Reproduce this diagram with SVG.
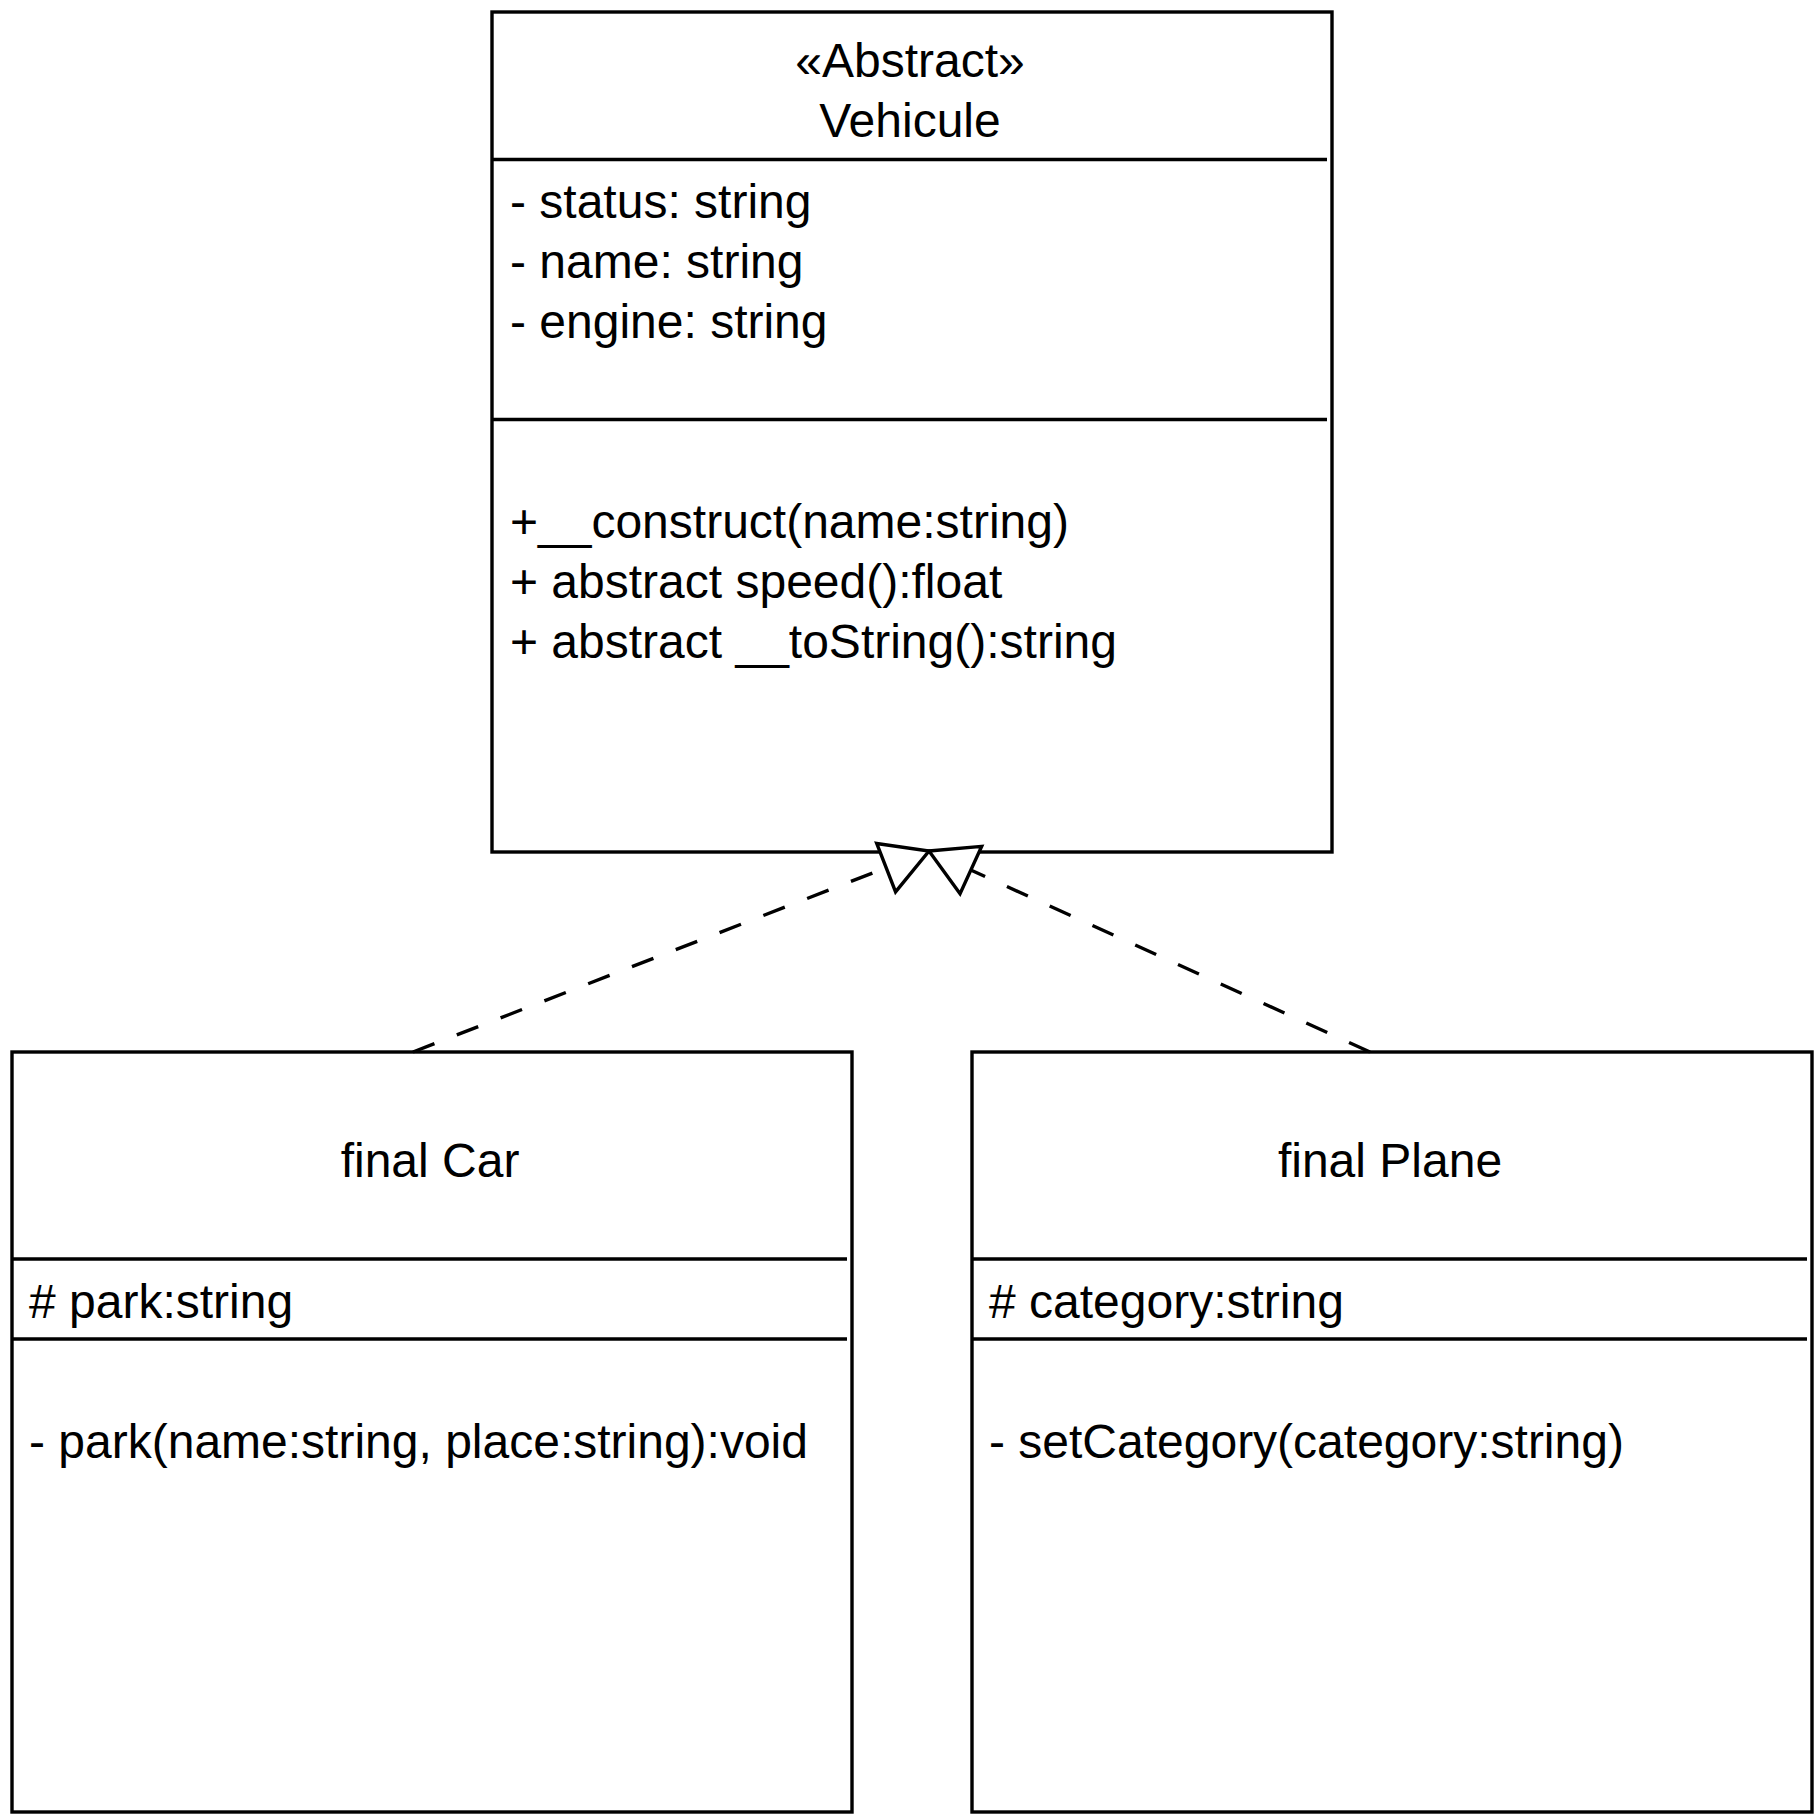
<svg xmlns="http://www.w3.org/2000/svg" width="1820" height="1820" viewBox="0 0 1820 1820">
<style>
.box{fill:#fff;stroke:#000;stroke-width:3.4}
.sep{stroke:#000;stroke-width:3.4;fill:none}
.t{font-family:"Liberation Sans",Arial,Helvetica,sans-serif;font-size:48px;fill:#000}
.c{text-anchor:middle}
.edge{stroke:#000;stroke-width:3.4;fill:none;stroke-dasharray:23 24}
</style>
<defs>
<marker id="tri" markerUnits="userSpaceOnUse" viewBox="-4 -32 56 64" markerWidth="56" markerHeight="64" refX="46" refY="0" orient="auto">
<path d="M0,-26 L46,0 L0,26 Z" fill="#fff" stroke="#000" stroke-width="3.4"/>
</marker>
</defs>
<rect width="1820" height="1820" fill="#fff"/>
<g id="vehicule">
<rect class="box" x="492" y="12" width="840" height="840"/>
<line class="sep" x1="492" y1="159.5" x2="1327" y2="159.5"/>
<line class="sep" x1="492" y1="419.5" x2="1327" y2="419.5"/>
<text class="t c" x="910" y="77">«Abstract»</text>
<text class="t c" x="910" y="137">Vehicule</text>
<text class="t" x="510" y="218">- status: string</text>
<text class="t" x="510" y="278">- name: string</text>
<text class="t" x="510" y="338">- engine: string</text>
<text class="t" x="510" y="538">+__construct(name:string)</text>
<text class="t" x="510" y="598">+ abstract speed():float</text>
<text class="t" x="510" y="658">+ abstract __toString():string</text>
</g>
<g id="car">
<rect class="box" x="12" y="1052" width="840" height="760"/>
<line class="sep" x1="12" y1="1259" x2="847" y2="1259"/>
<line class="sep" x1="12" y1="1339" x2="847" y2="1339"/>
<text class="t c" x="430" y="1177">final Car</text>
<text class="t" x="29" y="1318"># park:string</text>
<text class="t" x="29" y="1458">- park(name:string, place:string):void</text>
</g>
<g id="plane">
<rect class="box" x="972" y="1052" width="840" height="760"/>
<line class="sep" x1="972" y1="1259" x2="1807" y2="1259"/>
<line class="sep" x1="972" y1="1339" x2="1807" y2="1339"/>
<text class="t c" x="1390" y="1177">final Plane</text>
<text class="t" x="989" y="1318"># category:string</text>
<text class="t" x="989" y="1458">- setCategory(category:string)</text>
</g>
<g id="connectors">
<path class="edge" d="M413,1052 L929,851" marker-end="url(#tri)"/>
<path class="edge" d="M1370,1052 L929,851" marker-end="url(#tri)"/>
</g>
</svg>
